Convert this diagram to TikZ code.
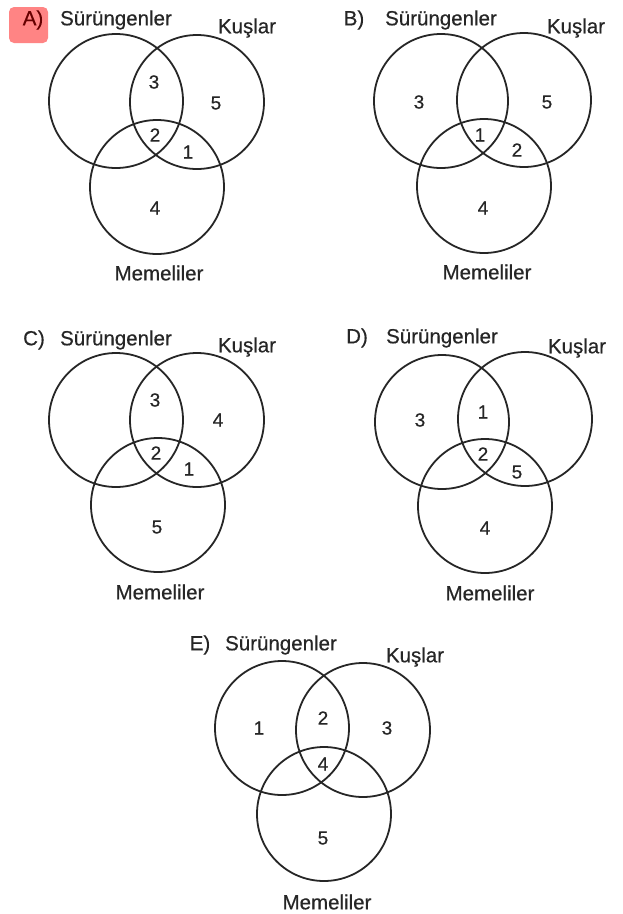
\documentclass[tikz,border=0pt]{standalone}
\usepackage{fontspec}
\setmainfont{Liberation Sans}[BoldFont=Liberation Sans,BoldFeatures={FakeBold=0.5}]
\begin{document}
\begin{tikzpicture}[x=1pt,y=-1pt,
  set/.style={circle,draw=black!85,line width=1.8pt,minimum size=134pt,inner sep=0pt},
  lbl/.style={font=\fontsize{20.5}{24}\selectfont\bfseries,text=black!85,inner sep=0pt},
  num/.style={font=\fontsize{19}{22}\selectfont\bfseries,text=black!85,inner sep=0pt},
  hl/.style={fill=red!60!white,opacity=0.8,rounded corners=5pt}]
\useasboundingbox[fill=white] (0,0) rectangle (623,914);
% ---------- A ----------
\fill[hl] (9,7) rectangle (48,43);
\node[lbl,text=red!40!black] (Ah) at (33,20) {A)};
\node[set] (As) at (116,101) {};
\node[set] (Ak) at (197,102) {};
\node[set] (Am) at (157,187) {};
\node[lbl] (Asl) at (116,20) {Sürüngenler};
\node[lbl] (Akl) at (247,28) {Kuşlar};
\node[lbl] (Aml) at (159,273) {Memeliler};
\node[num] (A3) at (154,82) {3};
\node[num] (A5) at (216,103) {5};
\node[num] (A2) at (155,135) {2};
\node[num] (A1) at (188,152) {1};
\node[num] (A4) at (155,208) {4};
% ---------- B ----------
\node[lbl] (Bh) at (354,20) {B)};
\node[set] (Bs) at (441,101) {};
\node[set] (Bk) at (524,100) {};
\node[set] (Bm) at (484,186) {};
\node[lbl] (Bsl) at (441,20) {Sürüngenler};
\node[lbl] (Bkl) at (576,28) {Kuşlar};
\node[lbl] (Bml) at (487,272) {Memeliler};
\node[num] (B3) at (419,102) {3};
\node[num] (B5) at (547,102) {5};
\node[num] (B1) at (480,135) {1};
\node[num] (B2) at (517,150) {2};
\node[num] (B4) at (483,208) {4};
% ---------- C ----------
\node[lbl] (Ch) at (34,340) {C)};
\node[set] (Cs) at (116,420) {};
\node[set] (Ck) at (197,420) {};
\node[set] (Cm) at (158,505) {};
\node[lbl] (Csl) at (116,340) {Sürüngenler};
\node[lbl] (Ckl) at (247,347) {Kuşlar};
\node[lbl] (Cml) at (160,592) {Memeliler};
\node[num] (C3) at (155,400) {3};
\node[num] (C4) at (218,420) {4};
\node[num] (C2) at (156,453) {2};
\node[num] (C1) at (189,469) {1};
\node[num] (C5) at (157,527) {5};
% ---------- D ----------
\node[lbl] (Dh) at (357,338) {D)};
\node[set] (Ds) at (442,422) {};
\node[set] (Dk) at (525,419) {};
\node[set] (Dm) at (485,506) {};
\node[lbl] (Dsl) at (442,338) {Sürüngenler};
\node[lbl] (Dkl) at (577,348) {Kuşlar};
\node[lbl] (Dml) at (490,593) {Memeliler};
\node[num] (D3) at (420,420) {3};
\node[num] (D1) at (483,412) {1};
\node[num] (D2) at (483,454) {2};
\node[num] (D5) at (517,472) {5};
\node[num] (D4) at (485,528) {4};
% ---------- E ----------
\node[lbl] (Eh) at (200,645) {E)};
\node[set] (Es) at (282,728) {};
\node[set] (Ek) at (363,730) {};
\node[set] (Em) at (324,814) {};
\node[lbl] (Esl) at (281,645) {Sürüngenler};
\node[lbl] (Ekl) at (415,657) {Kuşlar};
\node[lbl] (Eml) at (327,902) {Memeliler};
\node[num] (E1) at (259,728) {1};
\node[num] (E2) at (323,718) {2};
\node[num] (E3) at (387,728) {3};
\node[num] (E4) at (323,764) {4};
\node[num] (E5) at (323,838) {5};
\end{tikzpicture}
\end{document}
